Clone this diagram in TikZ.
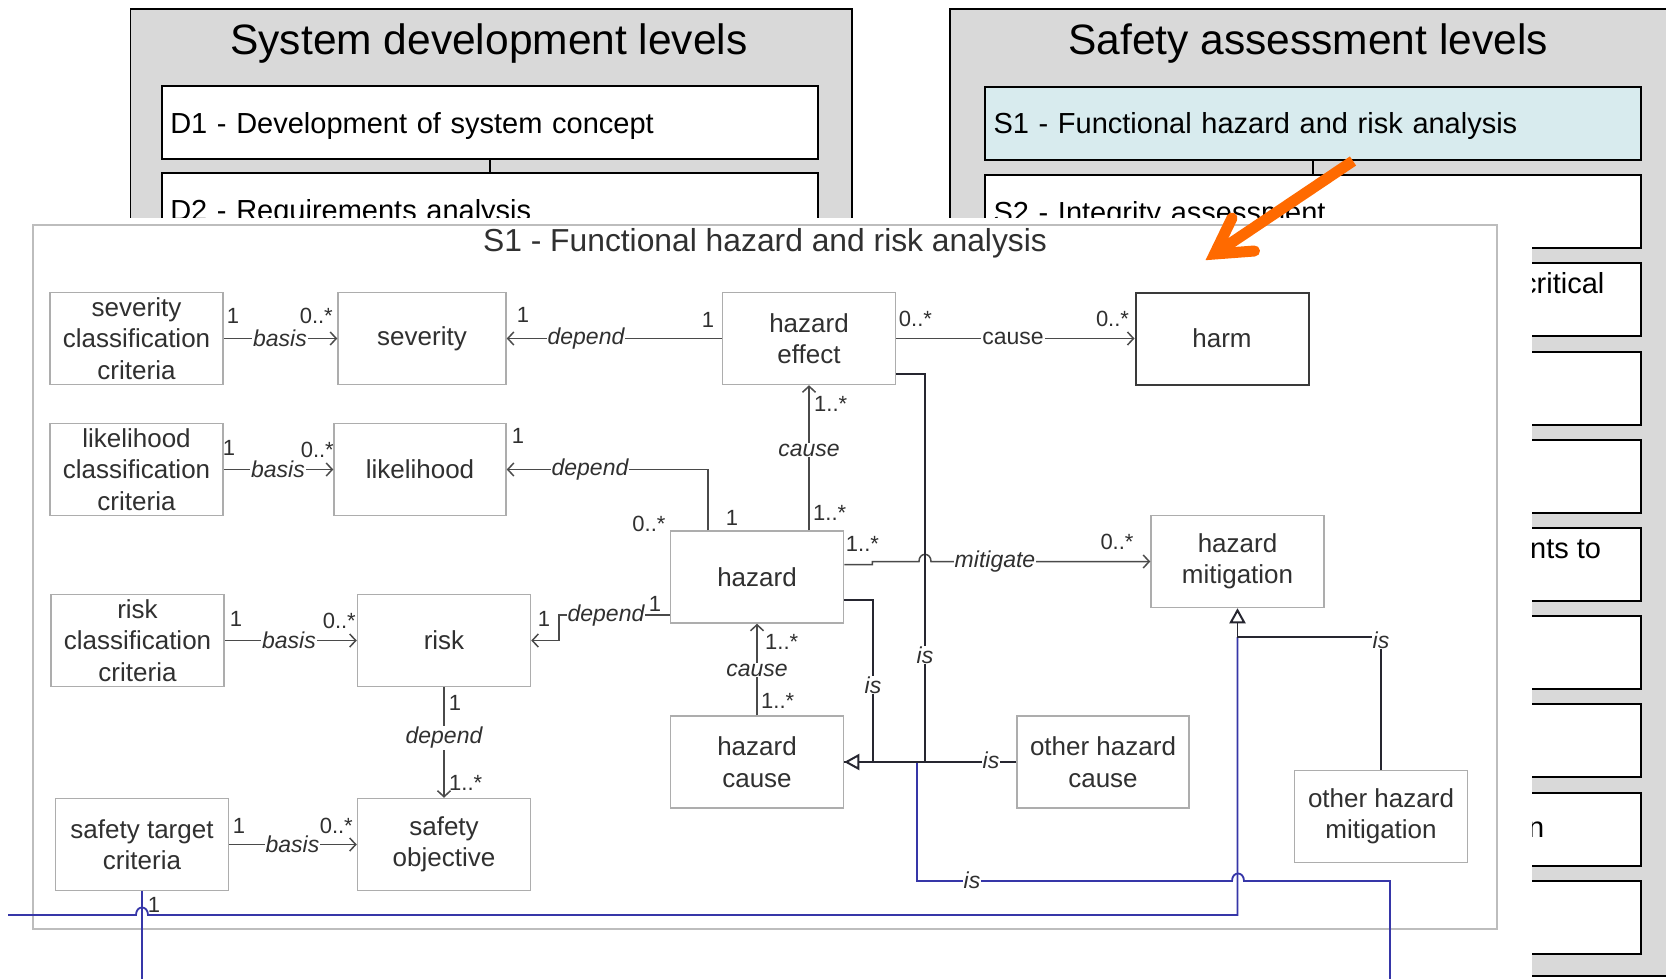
\documentclass[tikz,border=0pt]{standalone}
\usepackage{fontspec}
\setmainfont{Liberation Sans}
\usetikzlibrary{arrows.meta}

\definecolor{panelgray}{HTML}{D9D9D9}
\definecolor{levelcyan}{HTML}{D8EBEE}
\definecolor{umlline}{HTML}{4A4A4A}
\definecolor{isline}{HTML}{262630}
\definecolor{umltext}{HTML}{303030}
\definecolor{umlbox}{HTML}{ADADAD}
\definecolor{sheetedge}{HTML}{BDBDBD}
\definecolor{harmedge}{HTML}{3A3A3A}
\definecolor{linkblue}{HTML}{3636A8}
\definecolor{pointer}{HTML}{FF6A00}

\tikzset{
  panel/.style={draw=black, line width=1.5pt, fill=panelgray, inner sep=0pt},
  paneltitle/.style={font=\fontsize{42.5}{50}\selectfont, inner sep=0pt},
  lvlbox/.style={draw=black, line width=2pt, fill=white, minimum width=656pt,
    minimum height=73pt, inner xsep=8.5pt, inner ysep=0pt, text width=639pt,
    align=left, text height=21pt, text depth=0pt, font=\fontsize{29}{34}\selectfont},
  lvltext/.style={font=\fontsize{29}{34}\selectfont, inner sep=0pt},
  lvllink/.style={draw=black, line width=2.5pt},
  cls/.style={draw=umlbox, line width=1.5pt, fill=white, minimum width=173pt,
    minimum height=92pt, align=center, font=\fontsize{26}{31.5}\selectfont,
    text=umltext, inner sep=2pt},
  conn/.style={draw=umlline, line width=1.5pt},
  isconn/.style={draw=isline, line width=1.6pt},
  arr/.style={-{Straight Barb[length=6pt,width=13pt]}},
  isa/.style={-{Triangle[length=15pt,width=16pt,fill=white,line width=2pt]}},
  bluelink/.style={draw=linkblue, line width=1.8pt},
  role/.style={font=\fontsize{23}{23}\selectfont\itshape, text=umltext, fill=white, inner sep=1pt},
  plainrole/.style={font=\fontsize{23}{23}\selectfont, text=umltext, fill=white, inner sep=1pt},
  mult/.style={font=\fontsize{22}{22}\selectfont, text=umltext, inner sep=0pt},
  sheettitle/.style={font=\fontsize{31.8}{36}\selectfont, text=umltext, inner sep=0pt}
}

\begin{document}
\begin{tikzpicture}[x=1pt, y=-1pt]
\useasboundingbox (0,0) rectangle (1666,979);

% ---------- level panels ----------
\node[panel, minimum width=721.5pt, minimum height=966.5pt, anchor=north west] (devpanel) at (129.5,8.5) {};
\node[panel, minimum width=723pt, minimum height=966.5pt, anchor=north west] (safpanel) at (949,8.5) {};
\node[paneltitle, anchor=base] (devtitle) at (489,55) {System development levels};
\node[paneltitle, anchor=base] (saftitle) at (1308,55) {Safety assessment levels};

\node[lvlbox] (D1) at (489.75,123) {D1 - Development of system concept};
\node[lvlbox] (D2) at (489.75,209.5) {D2 - Requirements analysis};
\draw[lvllink] (D1.south) -- (D2.north);

\node[lvlbox, fill=levelcyan] (S1) at (1313,123.5) {S1 - Functional hazard and risk analysis};
\node[lvlbox] (S2) at (1313,211.7) {S2 - Integrity assessment};
\foreach \i in {3,...,10} {
  \node[lvlbox] (S\i) at (1313,{123.5+88.2*(\i-1)}) {};
}
\draw[lvllink] (S1.south) -- (S2.north);
\node[lvltext, anchor=base west] (S3txt) at (1522,293) {critical};
\node[lvltext, anchor=base west] (S6txt) at (1530,558) {nts to};
\node[lvltext, anchor=base west] (S9txt) at (1528,837) {n};

% ---------- S1 model sheet ----------
\fill[white] (0,218) rectangle (1532,979);
\draw[sheetedge, line width=2pt] (33,225) rectangle (1497,929);
\node[sheettitle] (sheettitle) at (765,243) {S1 - Functional hazard and risk analysis};

% classes
\node[cls] (sevcrit) at (136.5,338.5) {severity\\classification\\criteria};
\node[cls, minimum width=168pt] (severity) at (422,338.5) {severity};
\node[cls] (effect) at (809,338.5) {hazard\\effect};
\node[cls, draw=harmedge, line width=2pt] (harm) at (1222,338.5) {harm};
\node[cls] (likcrit) at (136.5,469.5) {likelihood\\classification\\criteria};
\node[cls, minimum width=172pt] (likelihood) at (420,469.5) {likelihood};
\node[cls] (hazard) at (757,577) {hazard};
\node[cls] (mitig) at (1237.5,561.5) {hazard\\mitigation};
\node[cls] (riskcrit) at (137.5,640.5) {risk\\classification\\criteria};
\node[cls] (risk) at (444,640.5) {risk};
\node[cls] (hcause) at (757,762) {hazard\\cause};
\node[cls, minimum width=172pt] (ohcause) at (1103,762) {other hazard\\cause};
\node[cls] (ohmitig) at (1381,816.5) {other hazard\\mitigation};
\node[cls] (stc) at (142,844.5) {safety target\\criteria};
\node[cls] (sobj) at (444,844.5) {safety\\objective};

% helper points
\coordinate (isjoin) at (925,762);
\coordinate (bluejoin) at (917,762);
\coordinate (mitjoin) at (1237.5,637);
\coordinate (blueentry) at (8,915);
\coordinate (blueexitA) at (1390,990);
\coordinate (blueexitB) at (142,990);

% blue links
\draw[bluelink] (bluejoin) -- (917,881) -- (1232,881)
  .. controls (1232,871) and (1244,871) .. (1244,881) -- (1390,881) -- (blueexitA);
\draw[bluelink] (blueentry) -- (136,915)
  .. controls (136,905) and (148,905) .. (148,915) -- (1237.5,915) -- (mitjoin);
\draw[bluelink] (stc.south) -- (blueexitB);

% associations
\draw[conn, arr] (sevcrit.east) -- (severity.west);
\draw[conn, arr] (effect.west) -- (severity.east);
\draw[conn, arr] (likcrit.east) -- (likelihood.west);
\draw[conn, arr] ([xshift=-49pt]hazard.north) |- (likelihood.east);
\draw[conn, arr] (hazard.north -| effect.south) -- (effect.south);
\draw[conn, arr] (effect.east) -- (harm.west);
\draw[conn, arr] ([yshift=9pt]hazard.south west) -- ++(-111,0) |- (risk.east);
\draw[conn, arr] (risk.south) -- (sobj.north);
\draw[conn, arr] (riskcrit.east) -- (risk.west);
\draw[conn, arr] (stc.east) -- (sobj.west);
\draw[conn, arr] (hcause.north) -- (hazard.south);
\draw[conn, arr] ([yshift=12.5pt]hazard.east) -- ++(28,0) -- ++(0,-3) -- (919,561.5)
  .. controls (919,552) and (931,552) .. (931,561.5) -- (mitig.west);

% generalisations
\draw[isconn] ([yshift=-35.5pt]effect.east) -| (isjoin);
\draw[isconn] ([yshift=-23pt]hazard.east) -- ++(29,0) |- (hcause.east);
\draw[isconn] (ohcause.west) -- (isjoin);
\draw[isconn, line width=2.2pt, isa] (isjoin) -- (hcause.east);
\draw[isconn, isa] (ohmitig.north) |- (mitjoin) -- (mitig.south);

% role names
\node[role] (r1) at (280,338.5) {basis};
\node[role] (r2) at (586,338.5) {depend};
\node[plainrole] (r3) at (1013,338.5) {cause};
\node[role] (r4) at (278,469.5) {basis};
\node[role] (r5) at (590,469.5) {depend};
\node[role] (r6) at (809,450) {cause};
\node[role] (r7) at (995,561.5) {mitigate};
\node[role] (r8) at (606,616) {depend};
\node[role] (r9) at (289,640.5) {basis};
\node[role] (r10) at (444,738) {depend};
\node[role] (r11) at (757,670) {cause};
\node[role] (r12) at (292.5,844.5) {basis};
\node[role] (r13) at (925,655) {is};
\node[role] (r14) at (873,685) {is};
\node[role] (r15) at (991,760) {is};
\node[role] (r16) at (1381,640) {is};
\node[role] (r17) at (972,880) {is};

% multiplicities
\node[mult] (m1) at (233,316) {1};
\node[mult, anchor=east] (m2) at (333,316) {0..*};
\node[mult] (m3) at (523,315) {1};
\node[mult] (m4) at (708,320) {1};
\node[mult] (m5) at (229,448) {1};
\node[mult, anchor=east] (m6) at (334,450) {0..*};
\node[mult] (m7) at (518,436) {1};
\node[mult] (m8) at (649,524) {0..*};
\node[mult] (m9) at (732,518) {1};
\node[mult, anchor=west] (m10) at (814,404) {1..*};
\node[mult, anchor=west] (m11) at (813,513) {1..*};
\node[mult] (m12) at (915.5,319) {0..*};
\node[mult] (m13) at (1112.5,319) {0..*};
\node[mult] (m14) at (862.5,544) {1..*};
\node[mult] (m15) at (1117,542) {0..*};
\node[mult] (m16) at (655,604) {1};
\node[mult] (m17) at (544,619) {1};
\node[mult] (m18) at (236,619) {1};
\node[mult, anchor=east] (m19) at (356,621) {0..*};
\node[mult] (m20) at (455,703) {1};
\node[mult, anchor=west] (m21) at (449,783) {1..*};
\node[mult, anchor=west] (m22) at (765,642) {1..*};
\node[mult, anchor=west] (m23) at (761,701) {1..*};
\node[mult] (m24) at (239,826) {1};
\node[mult, anchor=east] (m25) at (353,826) {0..*};
\node[mult] (m26) at (154,905) {1};

% ---------- pointer from S1 level to its model ----------
\coordinate (ptail) at (1353,161);
\coordinate (ptip) at (1214.6,254);
\draw[pointer, line width=11pt] (ptail) -- (ptip);
\draw[pointer, line width=11pt, line cap=round, line join=miter]
  (1232,218) -- (ptip) -- (1254.5,251);
\end{tikzpicture}
\end{document}
